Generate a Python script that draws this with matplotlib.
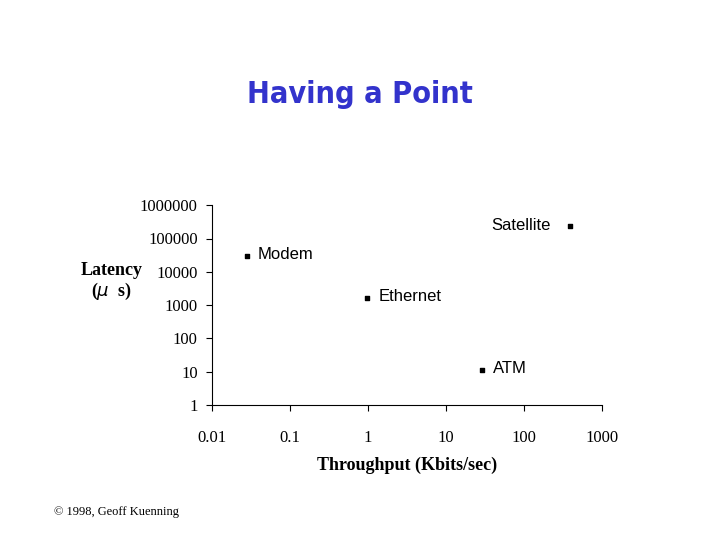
import matplotlib
matplotlib.use("Agg")
import matplotlib.pyplot as plt

names = ["Modem", "Ethernet", "ATM", "Satellite"]
throughput = [0.028, 0.98, 29, 390]
latency = [30000, 1600, 11, 240000]
xticks = [0.01, 0.1, 1, 10, 100, 1000]
xticklabels = ["0.01", "0.1", "1", "10", "100", "1000"]
yticks = [1, 10, 100, 1000, 10000, 100000, 1000000]
yticklabels = ["1", "10", "100", "1000", "10000", "100000", "1000000"]

fig = plt.figure(figsize=(7.2, 5.4), dpi=100)
fig.text(0.5, 0.825, "Having a Point", ha="center", va="center",
         fontsize=22, fontweight="bold", color="#3333cc", family="DejaVu Sans",
         stretch="condensed")
ax = fig.add_axes([0.294, 0.25, 0.542, 0.37])
ax.set_xscale("log"); ax.set_yscale("log")
ax.set_xlim(0.01, 1000); ax.set_ylim(1, 1000000)
ax.scatter(throughput, latency, marker="s", s=10, color="black", zorder=3)
for n, x, y in zip(names, throughput, latency):
    if n == "Satellite":
        ax.annotate(n, (x, y), xytext=(-14, 0), textcoords="offset points",
                    ha="right", va="center", fontsize=12, family="Liberation Sans")
    else:
        ax.annotate(n, (x, y), xytext=(8, 1), textcoords="offset points",
                    va="center", fontsize=12, family="Liberation Sans")
for s in ["top", "right"]:
    ax.spines[s].set_visible(False)
ax.set_xticks(xticks); ax.set_xticklabels(xticklabels, family="Liberation Serif", fontsize=12)
ax.set_yticks(yticks); ax.set_yticklabels(yticklabels, family="Liberation Serif", fontsize=12)
ax.minorticks_off()
ax.tick_params(direction="out", length=4, pad=14)
ax.tick_params(axis="y", pad=6)
ax.set_xlabel("Throughput (Kbits/sec)", family="Liberation Serif", fontweight="bold", fontsize=13, labelpad=8)
fig.text(0.155, 0.478, "Latency\n($\\mu$  s)", ha="center", va="center",
         family="Liberation Serif", fontweight="bold", fontsize=13, linespacing=1.1)
fig.text(0.075, 0.046, "© 1998, Geoff Kuenning", family="Liberation Serif", fontsize=9)
fig.savefig("out.png", dpi=100)
